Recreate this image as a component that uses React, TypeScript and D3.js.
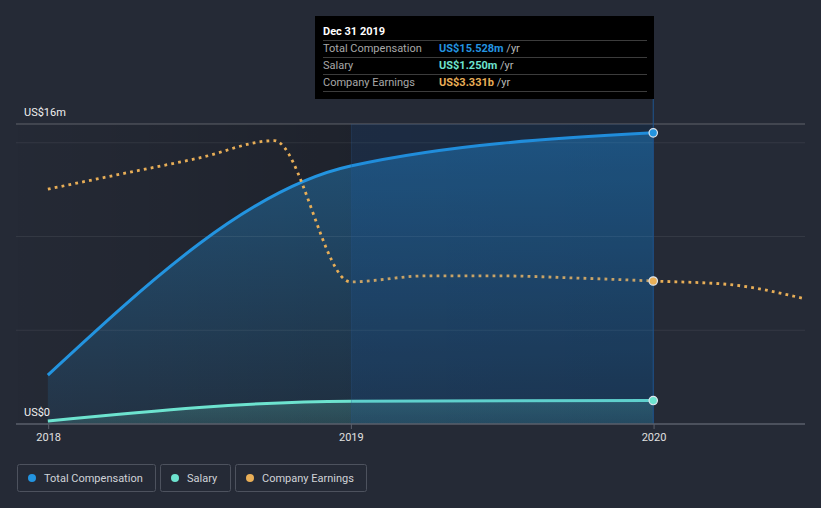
import React from "react";
import * as d3 from "d3";

const compDates = ["2017-12-31", "2018-12-31", "2019-12-31"];
const totalComp = [2.61, 13.76, 15.528];
const salary = [0.16, 1.22, 1.25];

const earnDates = [
  "2017-12-31", "2018-03-31", "2018-06-30", "2018-09-30", "2018-12-31",
  "2019-03-31", "2019-06-30", "2019-09-30", "2019-12-31", "2020-03-31", "2020-06-30",
];
const earnings = [5.47, 5.83, 6.19, 6.6, 3.31, 3.45, 3.45, 3.4, 3.331, 3.25, 2.92];

const yTicks = [0, 5, 10, 15, 16];
const xTickYears = [2018, 2019, 2020];
const legendItems = ["Total Compensation", "Salary", "Company Earnings"];
const tooltipRows = [
  { label: "Total Compensation", value: "US$15.528m" },
  { label: "Salary", value: "US$1.250m" },
  { label: "Company Earnings", value: "US$3.331b" },
];

const W = 821;
const H = 508;
const BG = "#252a36";
const BLUE = "#2394e0";
const TEAL = "#6de3cf";
const ORANGE = "#e8ae57";
const FONT = "Roboto, 'Noto Sans', sans-serif";

const parse = d3.timeParse("%Y-%m-%d");

export default function App() {
  const x = d3
    .scaleTime()
    .domain([new Date(2017, 10, 25), new Date(2020, 6, 1)])
    .range([18, 805]);
  const y = d3.scaleLinear().domain([0, 16]).range([424, 124]);
  const yE = d3.scaleLinear().domain([0, 6.988]).range([424, 124]);

  const comp = compDates.map((d, i) => ({ d: parse(d)!, v: totalComp[i] }));
  const sal = compDates.map((d, i) => ({ d: parse(d)!, v: salary[i] }));
  const earn = earnDates.map((d, i) => ({ d: parse(d)!, v: earnings[i] }));

  const line = d3
    .line<{ d: Date; v: number }>()
    .x((p) => x(p.d))
    .y((p) => y(p.v))
    .curve(d3.curveMonotoneX);
  const area = d3
    .area<{ d: Date; v: number }>()
    .x((p) => x(p.d))
    .y0(y(0))
    .y1((p) => y(p.v))
    .curve(d3.curveMonotoneX);
  const lineE = d3
    .line<{ d: Date; v: number }>()
    .x((p) => x(p.d))
    .y((p) => yE(p.v))
    .curve(d3.curveMonotoneX);

  const x2019 = x(new Date(2019, 0, 1));
  const xHover = x(parse("2019-12-31")!);
  const lastComp = comp[comp.length - 1];
  const lastSal = sal[sal.length - 1];
  const hoverEarn = earn[8];

  const legendX = [17, 160, 235];
  const legendW = [138, 70, 131];
  const legendColors = [BLUE, TEAL, ORANGE];

  return (
    <svg
      width={W}
      height={H}
      style={{ position: "absolute", left: 0, top: 0, fontFamily: FONT }}
    >
      <defs>
        <linearGradient id="darkLeft" x1="0" x2="1" y1="0" y2="0">
          <stop offset="0" stopColor="#000" stopOpacity={0.02} />
          <stop offset="0.52" stopColor="#000" stopOpacity={0.18} />
          <stop offset="1" stopColor="#000" stopOpacity={0.25} />
        </linearGradient>
        <linearGradient id="compFill" gradientUnits="userSpaceOnUse" x1="0" x2="0" y1={y(16)} y2={y(0)}>
          <stop offset="0" stopColor={BLUE} stopOpacity={0.42} />
          <stop offset="1" stopColor={BLUE} stopOpacity={0.1} />
        </linearGradient>
        <linearGradient id="salFill" gradientUnits="userSpaceOnUse" x1="0" x2="0" y1={y(1.3)} y2={y(0)}>
          <stop offset="0" stopColor={TEAL} stopOpacity={0.22} />
          <stop offset="1" stopColor={TEAL} stopOpacity={0.14} />
        </linearGradient>
      </defs>
      <rect x={0} y={0} width={W} height={H} fill={BG} />
      <rect x={18} y={y(16)} width={xHover - 18} height={y(0) - y(16)} fill="url(#darkLeft)" />

      <path d={area(comp) ?? ""} fill="url(#compFill)" />
      <path d={area(sal) ?? ""} fill="url(#salFill)" />

      {yTicks.filter((t) => t > 0).map((t) => (
        <line
          key={t}
          x1={16}
          x2={805}
          y1={y(t)}
          y2={y(t)}
          stroke="#fff"
          strokeOpacity={t === 16 ? 0.18 : 0.07}
          strokeWidth={t === 16 ? 1.5 : 1.2}
        />
      ))}

      <path d={line(comp) ?? ""} fill="none" stroke={BLUE} strokeWidth={3} />
      <path d={line(sal) ?? ""} fill="none" stroke={TEAL} strokeWidth={3} />
      <path
        d={lineE(earn) ?? ""}
        fill="none"
        stroke={ORANGE}
        strokeWidth={2.8}
        strokeDasharray="2.8 4.2"
      />

      <rect
        x={x2019}
        y={y(16)}
        width={xHover - x2019}
        height={y(0) - y(16)}
        fill="#1565c0"
        fillOpacity={0.15}
      />
      <line x1={x2019} x2={x2019} y1={y(16)} y2={y(0)} stroke="#2a5a90" strokeOpacity={0.3} />
      <line x1={xHover} x2={xHover} y1={99} y2={y(0)} stroke="#1f5590" strokeWidth={1} />

      <line x1={16} x2={805} y1={y(0)} y2={y(0)} stroke="#5a5f6b" strokeWidth={1.5} />
      {xTickYears.map((yr) => {
        const xx = x(new Date(yr, 0, 1));
        return (
          <g key={yr}>
            <line x1={xx} x2={xx} y1={y(0)} y2={y(0) + 5} stroke="#5a5f6b" />
            <text x={xx} y={441} textAnchor="middle" fontSize={11} fill="#e0e0e0">
              {yr}
            </text>
          </g>
        );
      })}
      <text x={24} y={116} fontSize={11} fill="#f0f0f0">US$16m</text>
      <text x={24} y={416} fontSize={11} fill="#f0f0f0">US$0</text>

      <circle cx={x(lastComp.d)} cy={y(lastComp.v)} r={4.2} fill={BLUE} stroke="#dfe6ee" strokeWidth={1.2} />
      <circle cx={x(lastSal.d)} cy={y(lastSal.v)} r={4.2} fill={TEAL} stroke="#dfe6ee" strokeWidth={1.2} />
      <circle cx={x(hoverEarn.d)} cy={yE(hoverEarn.v)} r={4.2} fill={ORANGE} stroke="#dfe6ee" strokeWidth={1.2} />

      {/* tooltip */}
      <rect x={315} y={16} width={339} height={83} fill="#000" />
      <text x={323} y={35} fontSize={11} fontWeight="bold" fill="#fff">Dec 31 2019</text>
      {[40.5, 57.5, 74.5, 91.5].map((yy) => (
        <line key={yy} x1={323} x2={647} y1={yy} y2={yy} stroke="#3c3c3c" />
      ))}
      {tooltipRows.map((r, i) => (
        <g key={r.label}>
          <text x={323} y={52 + i * 17} fontSize={11} fill="#a8a8a8">{r.label}</text>
          <text x={439} y={52 + i * 17} fontSize={11} fontWeight="bold" fill={legendColors[i]}>
            {r.value}
            <tspan fontWeight="normal" fill="#b8b8b8">{" /yr"}</tspan>
          </text>
        </g>
      ))}

      {/* legend */}
      {legendItems.map((name, i) => (
        <g key={name}>
          <rect
            x={legendX[i] + 0.5}
            y={464.5}
            width={legendW[i]}
            height={27}
            rx={2}
            fill="none"
            stroke="#4d525e"
          />
          <circle cx={legendX[i] + 15} cy={478} r={4} fill={legendColors[i]} />
          <text x={legendX[i] + 27} y={481.5} fontSize={11} fill="#d0d3d8">
            {name}
          </text>
        </g>
      ))}
    </svg>
  );
}
